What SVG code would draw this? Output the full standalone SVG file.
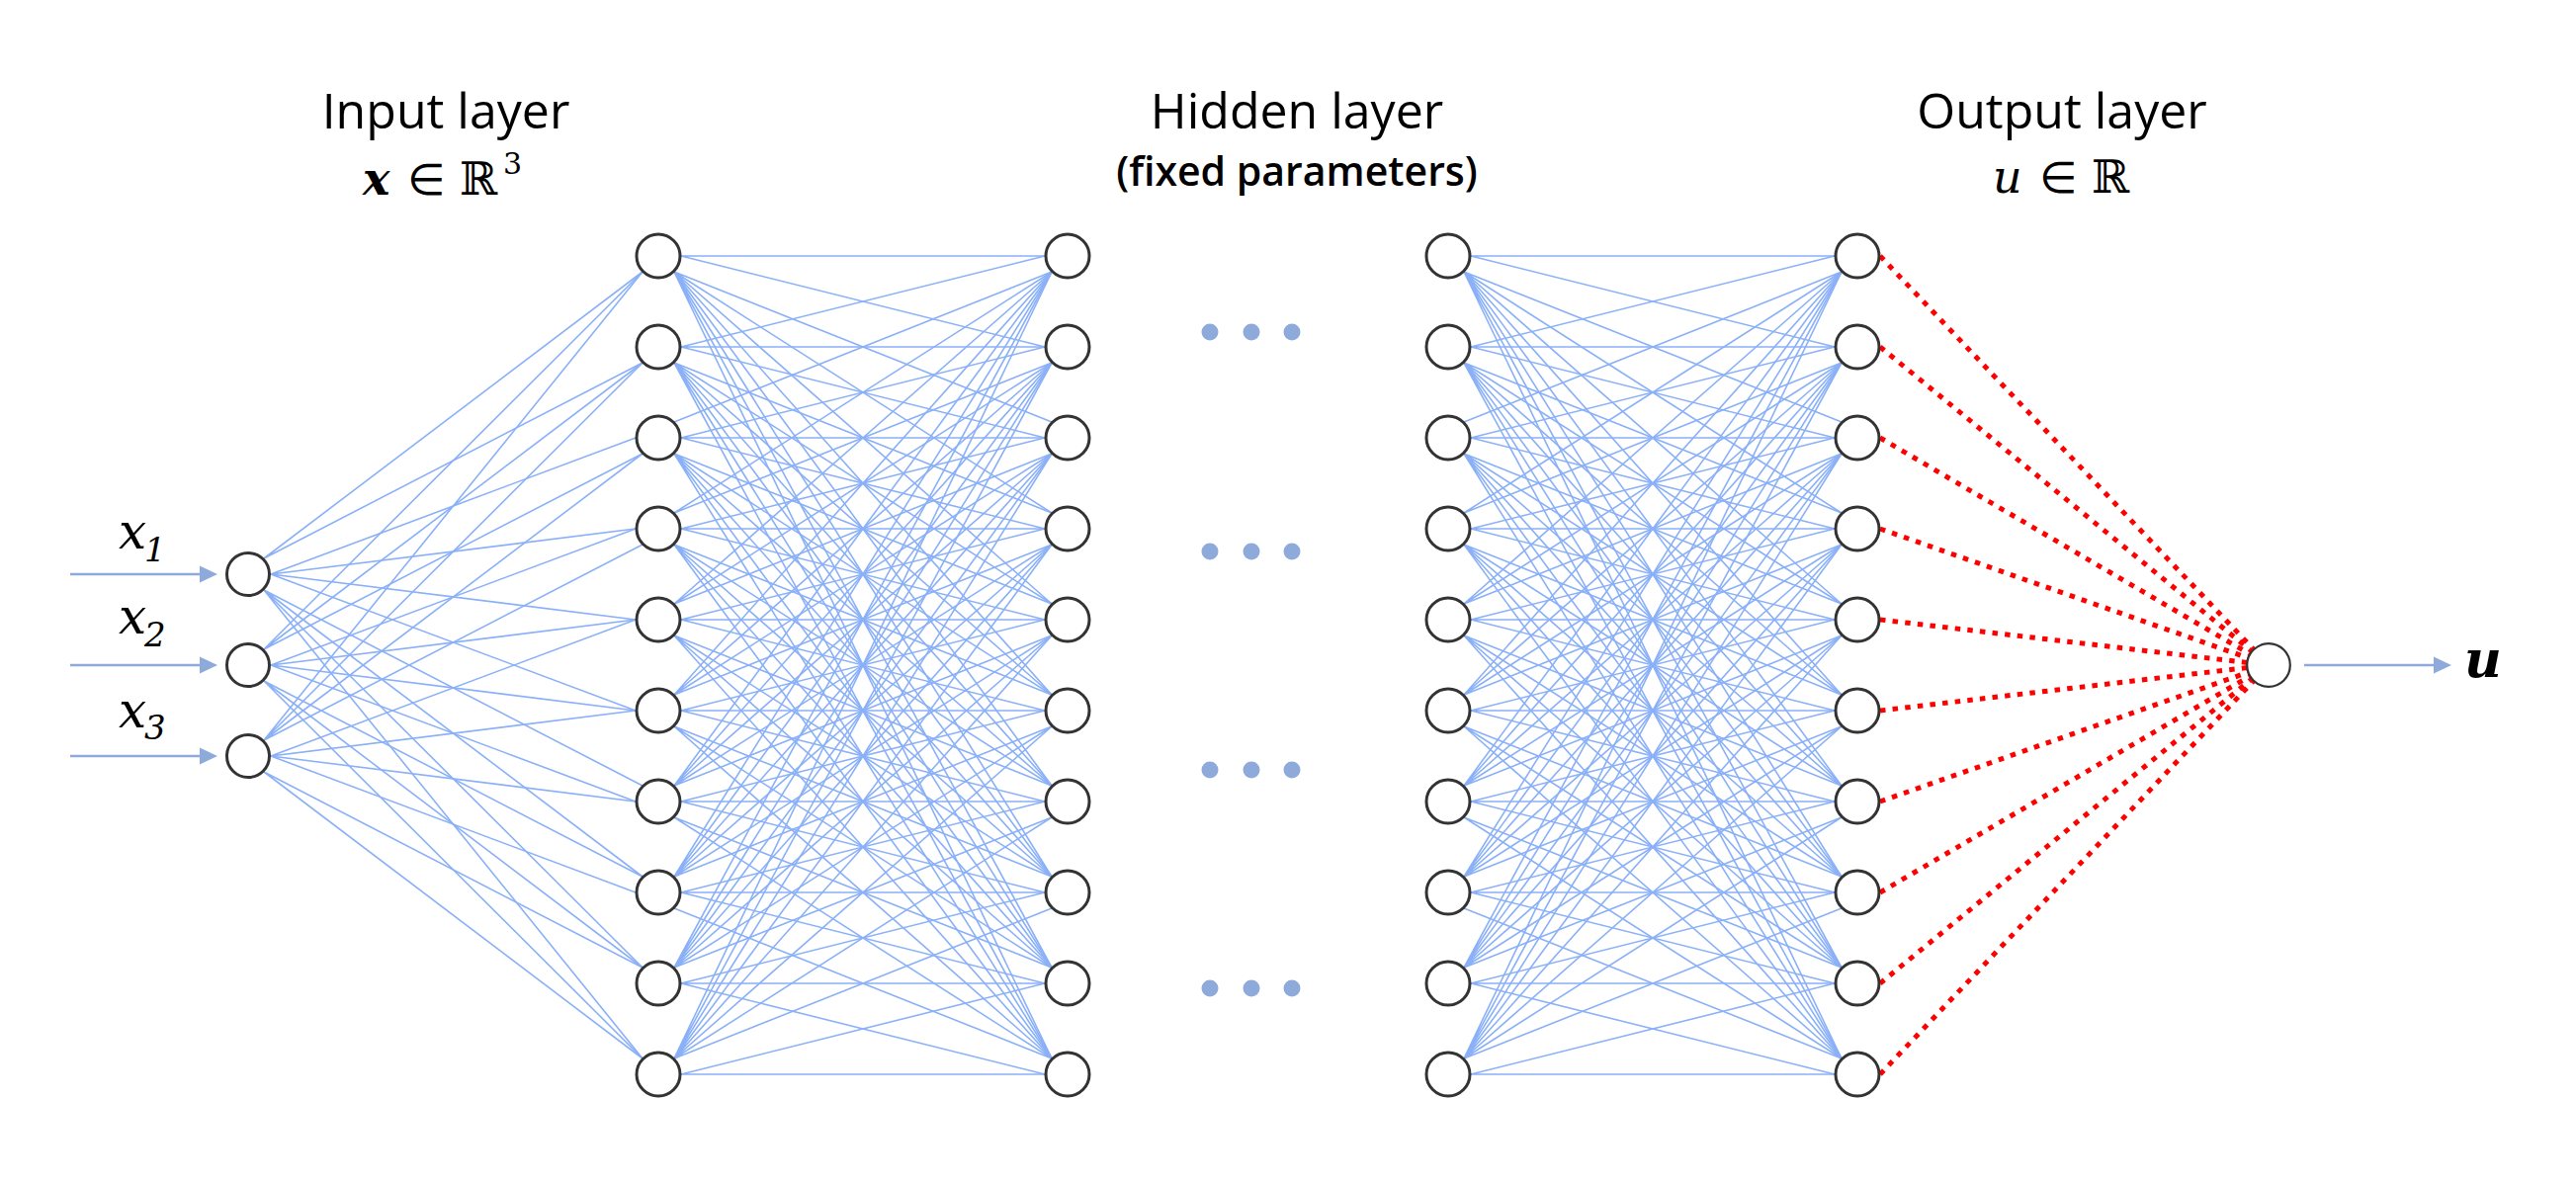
<svg xmlns="http://www.w3.org/2000/svg" xmlns:xlink="http://www.w3.org/1999/xlink" width="2606" height="1197" viewBox="0 0 2606 1197">
<style>
.node{fill:#fff;stroke:#333;stroke-width:3}
.out{fill:#fff;stroke:#333;stroke-width:2.2}
.w{fill:none;stroke:#8ab0f8;stroke-width:1.6;stroke-linecap:round}
.red{fill:none;stroke:#ff0000;stroke-width:5;stroke-dasharray:5.5 7.2}
.arr{fill:none;stroke:#8eaadb;stroke-width:2.6}
.dot{fill:#8eaadb}
.title{font-family:"Open Sans","Noto Sans",sans-serif;font-size:50px;fill:#000;text-anchor:middle}
.sub{font-family:"Open Sans","Noto Sans",sans-serif;font-size:41px;font-weight:600;fill:#000;text-anchor:middle}
.m{font-family:"DejaVu Serif","Liberation Serif",serif;font-style:italic;fill:#000}
.sym{font-family:"DejaVu Sans",sans-serif;font-style:normal;font-weight:normal}
.dbl{font-family:"DejaVu Serif",serif;font-style:normal;font-weight:normal}
</style>
<defs>
<marker id="ah" markerUnits="userSpaceOnUse" markerWidth="18" markerHeight="18" refX="4" refY="9" orient="auto" viewBox="0 0 18 18"><path d="M0 0.5L18 9L0 17.5z" fill="#8eaadb"/></marker>
<g id="bundle">
<path class="w" d="M689 259L1057 259M689 259L1057 351M682 275L1064 427M682 275L1064 519M682 275L1064 611M682 275L1064 703M682 275L1064 795M682 275L1064 887M682 275L1064 979M682 275L1064 1071"/>
<path class="w" d="M689 351L1057 259M689 351L1057 351M689 351L1057 443M682 367L1064 519M682 367L1064 611M682 367L1064 703M682 367L1064 795M682 367L1064 887M682 367L1064 979M682 367L1064 1071"/>
<path class="w" d="M689 443L1057 351M689 443L1057 443M689 443L1057 535M682 459L1064 611M682 459L1064 703M682 459L1064 795M682 459L1064 887M682 459L1064 979M682 459L1064 1071M682 427L1064 275"/>
<path class="w" d="M689 535L1057 443M689 535L1057 535M689 535L1057 627M682 551L1064 703M682 551L1064 795M682 551L1064 887M682 551L1064 979M682 551L1064 1071M682 519L1064 275M682 519L1064 367"/>
<path class="w" d="M689 627L1057 535M689 627L1057 627M689 627L1057 719M682 643L1064 795M682 643L1064 887M682 643L1064 979M682 643L1064 1071M682 611L1064 275M682 611L1064 367M682 611L1064 459"/>
<path class="w" d="M689 719L1057 627M689 719L1057 719M689 719L1057 811M682 735L1064 887M682 735L1064 979M682 735L1064 1071M682 703L1064 275M682 703L1064 367M682 703L1064 459M682 703L1064 551"/>
<path class="w" d="M689 811L1057 719M689 811L1057 811M689 811L1057 903M682 827L1064 979M682 827L1064 1071M682 795L1064 275M682 795L1064 367M682 795L1064 459M682 795L1064 551M682 795L1064 643"/>
<path class="w" d="M689 903L1057 811M689 903L1057 903M689 903L1057 995M682 919L1064 1071M682 887L1064 275M682 887L1064 367M682 887L1064 459M682 887L1064 551M682 887L1064 643M682 887L1064 735"/>
<path class="w" d="M689 995L1057 903M689 995L1057 995M689 995L1057 1087M682 979L1064 275M682 979L1064 367M682 979L1064 459M682 979L1064 551M682 979L1064 643M682 979L1064 735M682 979L1064 827"/>
<path class="w" d="M689 1087L1057 995M689 1087L1057 1087M682 1071L1064 275M682 1071L1064 367M682 1071L1064 459M682 1071L1064 551M682 1071L1064 643M682 1071L1064 735M682 1071L1064 827M682 1071L1064 919"/>
</g>
</defs>
<rect width="2606" height="1197" fill="#fff"/>

<g id="connectors">
<path class="w" d="M274 581L643 443M274 581L643 535M274 581L643 627M274 581L643 719M267 565L650 275M267 565L650 367M267 597L650 795M267 597L650 887M267 597L650 979M267 597L650 1071"/>
<path class="w" d="M274 673L643 535M274 673L643 627M274 673L643 719M274 673L643 811M267 657L650 275M267 657L650 367M267 657L650 459M267 689L650 887M267 689L650 979M267 689L650 1071"/>
<path class="w" d="M274 765L643 627M274 765L643 719M274 765L643 811M274 765L643 903M267 749L650 275M267 749L650 367M267 749L650 459M267 749L650 551M267 781L650 979M267 781L650 1071"/>
<use xlink:href="#bundle" href="#bundle"/>
<use xlink:href="#bundle" href="#bundle" transform="translate(799,0)"/>
<path class="red" d="M1902 259L2295 673M1902 351L2295 673M1902 443L2295 673M1902 535L2295 673M1902 627L2295 673M1902 719L2295 673M1902 811L2295 673M1902 903L2295 673M1902 995L2295 673M1902 1087L2295 673"/>
<line class="arr" x1="71" y1="581" x2="206" y2="581" marker-end="url(#ah)"/>
<line class="arr" x1="71" y1="673" x2="206" y2="673" marker-end="url(#ah)"/>
<line class="arr" x1="71" y1="765" x2="206" y2="765" marker-end="url(#ah)"/>
<line class="arr" x1="2331" y1="673" x2="2466" y2="673" marker-end="url(#ah)"/>
</g>

<g id="input-layer">
<g id="in1"><circle class="node" cx="251" cy="581" r="21.5"/></g>
<g id="in2"><circle class="node" cx="251" cy="673" r="21.5"/></g>
<g id="in3"><circle class="node" cx="251" cy="765" r="21.5"/></g>
</g>
<g id="hidden-1">
<g id="h1-1"><circle class="node" cx="666" cy="259" r="22"/></g>
<g id="h1-2"><circle class="node" cx="666" cy="351" r="22"/></g>
<g id="h1-3"><circle class="node" cx="666" cy="443" r="22"/></g>
<g id="h1-4"><circle class="node" cx="666" cy="535" r="22"/></g>
<g id="h1-5"><circle class="node" cx="666" cy="627" r="22"/></g>
<g id="h1-6"><circle class="node" cx="666" cy="719" r="22"/></g>
<g id="h1-7"><circle class="node" cx="666" cy="811" r="22"/></g>
<g id="h1-8"><circle class="node" cx="666" cy="903" r="22"/></g>
<g id="h1-9"><circle class="node" cx="666" cy="995" r="22"/></g>
<g id="h1-10"><circle class="node" cx="666" cy="1087" r="22"/></g>
</g>
<g id="hidden-2">
<g id="h2-1"><circle class="node" cx="1080" cy="259" r="22"/></g>
<g id="h2-2"><circle class="node" cx="1080" cy="351" r="22"/></g>
<g id="h2-3"><circle class="node" cx="1080" cy="443" r="22"/></g>
<g id="h2-4"><circle class="node" cx="1080" cy="535" r="22"/></g>
<g id="h2-5"><circle class="node" cx="1080" cy="627" r="22"/></g>
<g id="h2-6"><circle class="node" cx="1080" cy="719" r="22"/></g>
<g id="h2-7"><circle class="node" cx="1080" cy="811" r="22"/></g>
<g id="h2-8"><circle class="node" cx="1080" cy="903" r="22"/></g>
<g id="h2-9"><circle class="node" cx="1080" cy="995" r="22"/></g>
<g id="h2-10"><circle class="node" cx="1080" cy="1087" r="22"/></g>
</g>
<g id="hidden-3">
<g id="h3-1"><circle class="node" cx="1465" cy="259" r="22"/></g>
<g id="h3-2"><circle class="node" cx="1465" cy="351" r="22"/></g>
<g id="h3-3"><circle class="node" cx="1465" cy="443" r="22"/></g>
<g id="h3-4"><circle class="node" cx="1465" cy="535" r="22"/></g>
<g id="h3-5"><circle class="node" cx="1465" cy="627" r="22"/></g>
<g id="h3-6"><circle class="node" cx="1465" cy="719" r="22"/></g>
<g id="h3-7"><circle class="node" cx="1465" cy="811" r="22"/></g>
<g id="h3-8"><circle class="node" cx="1465" cy="903" r="22"/></g>
<g id="h3-9"><circle class="node" cx="1465" cy="995" r="22"/></g>
<g id="h3-10"><circle class="node" cx="1465" cy="1087" r="22"/></g>
</g>
<g id="hidden-4">
<g id="h4-1"><circle class="node" cx="1879" cy="259" r="22"/></g>
<g id="h4-2"><circle class="node" cx="1879" cy="351" r="22"/></g>
<g id="h4-3"><circle class="node" cx="1879" cy="443" r="22"/></g>
<g id="h4-4"><circle class="node" cx="1879" cy="535" r="22"/></g>
<g id="h4-5"><circle class="node" cx="1879" cy="627" r="22"/></g>
<g id="h4-6"><circle class="node" cx="1879" cy="719" r="22"/></g>
<g id="h4-7"><circle class="node" cx="1879" cy="811" r="22"/></g>
<g id="h4-8"><circle class="node" cx="1879" cy="903" r="22"/></g>
<g id="h4-9"><circle class="node" cx="1879" cy="995" r="22"/></g>
<g id="h4-10"><circle class="node" cx="1879" cy="1087" r="22"/></g>
</g>
<g id="output-node"><circle class="out" cx="2295" cy="673" r="21.8"/></g>

<g id="ellipsis">
<circle class="dot" cx="1224" cy="336" r="8.5"/><circle class="dot" cx="1266" cy="336" r="8.5"/><circle class="dot" cx="1307" cy="336" r="8.5"/>
<circle class="dot" cx="1224" cy="558" r="8.5"/><circle class="dot" cx="1266" cy="558" r="8.5"/><circle class="dot" cx="1307" cy="558" r="8.5"/>
<circle class="dot" cx="1224" cy="779" r="8.5"/><circle class="dot" cx="1266" cy="779" r="8.5"/><circle class="dot" cx="1307" cy="779" r="8.5"/>
<circle class="dot" cx="1224" cy="1000" r="8.5"/><circle class="dot" cx="1266" cy="1000" r="8.5"/><circle class="dot" cx="1307" cy="1000" r="8.5"/>
</g>

<g id="labels">
<text class="title" x="451" y="130">Input layer</text>
<text class="m" font-size="46"><tspan x="367" y="197" font-weight="bold">x</tspan><tspan class="sym" x="412" y="197" font-size="44">∈</tspan><tspan class="dbl" x="465" y="197" font-size="46">ℝ</tspan><tspan class="dbl" x="509" y="176" font-size="30">3</tspan></text>
<text class="title" x="1312" y="130">Hidden layer</text>
<text class="sub" x="1312" y="188">(fixed parameters)</text>
<text class="title" x="2086" y="130">Output layer</text>
<text class="m" font-size="46"><tspan x="2016" y="195">u</tspan><tspan class="sym" x="2063" y="195" font-size="44">∈</tspan><tspan class="dbl" x="2116" y="195" font-size="46">ℝ</tspan></text>
<text class="m" font-size="50"><tspan x="120" y="555">x</tspan><tspan x="146" y="568" font-size="34">1</tspan></text>
<text class="m" font-size="50"><tspan x="120" y="641">x</tspan><tspan x="146" y="654" font-size="34">2</tspan></text>
<text class="m" font-size="50"><tspan x="120" y="736">x</tspan><tspan x="146" y="748" font-size="34">3</tspan></text>
<text class="m" font-size="52" font-weight="bold"><tspan x="2493" y="685">u</tspan></text>
</g>
</svg>
